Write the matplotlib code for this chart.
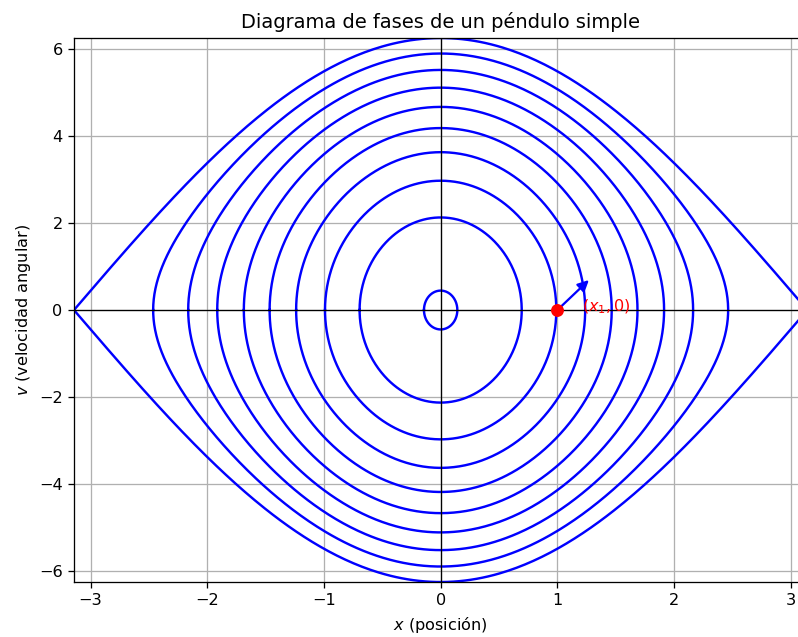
import numpy as np
import matplotlib
matplotlib.use("Agg")
import matplotlib.pyplot as plt

# g/L del péndulo y niveles de energía de las órbitas
g = 9.8
energias = [0.1, 2.27, 4.43, 6.6, 8.77, 10.93, 13.1, 15.27, 17.43, 19.6]

# punto inicial marcado y flecha
x1 = 1.0
flecha = (0.27, 0.69)

fig = plt.figure(figsize=(798 / 116, 637 / 116), dpi=116)
ax = fig.add_axes([0.0927, 0.0863, 0.919, 0.854])

for E in energias:
    a = np.arccos(max(1 - E / g, -1.0))
    th = np.linspace(-np.pi / 2, np.pi / 2, 400)
    x = a * np.sin(th)
    v = np.sqrt(np.clip(2 * (E - g * (1 - np.cos(x))), 0, None))
    xs = np.concatenate([x, x[::-1]])
    vs = np.concatenate([v, -v[::-1]])
    ax.plot(xs, vs, color="blue", lw=1.5)

ax.axhline(0, color="black", lw=0.8)
ax.axvline(0, color="black", lw=0.8)

ax.plot(x1, 0, "o", color="red", ms=7, zorder=5)
ax.annotate("", xy=(x1 + flecha[0], flecha[1]), xytext=(x1, 0),
            arrowprops=dict(arrowstyle="-|>", color="blue", lw=1.4,
                            mutation_scale=14, shrinkA=0, shrinkB=0))
ax.text(x1 + 0.21, -0.02, "$(x_1, 0)$", color="red", fontsize=10, va="baseline")

ax.set_xlim(-np.pi, np.pi)
ax.set_ylim(-2 * np.sqrt(g), 2 * np.sqrt(g))
ax.set_title("Diagrama de fases de un péndulo simple")
ax.set_xlabel("$x$ (posición)")
ax.set_ylabel("$v$ (velocidad angular)")
ax.grid(True)

fig.savefig("out.png", dpi=116)
